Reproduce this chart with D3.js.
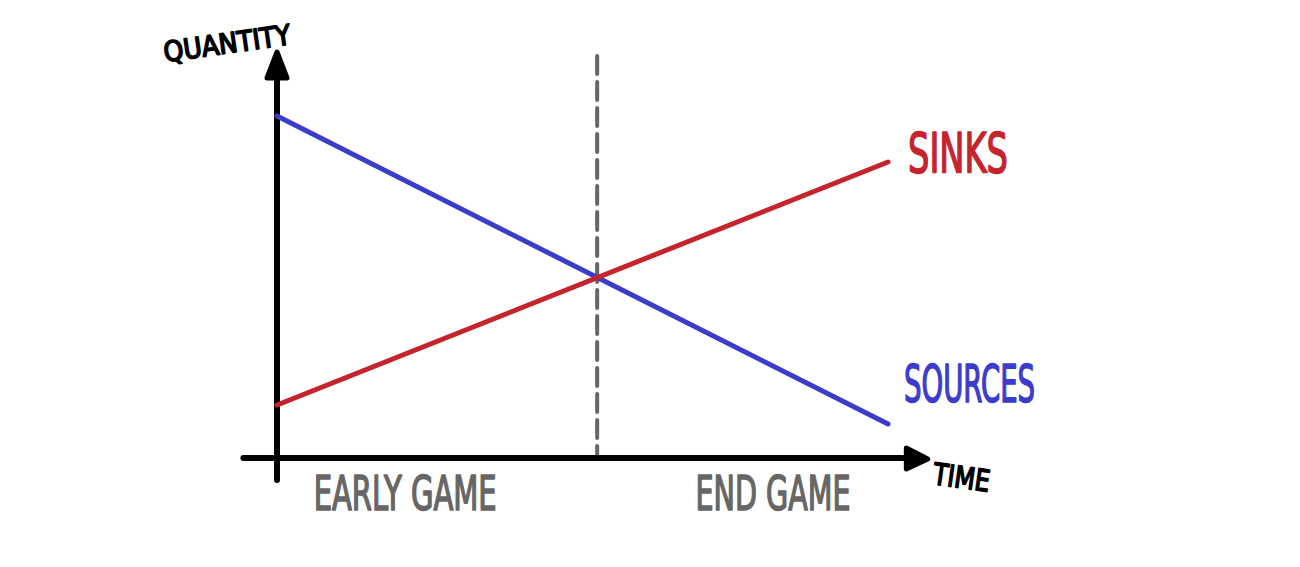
<!DOCTYPE html>
<html>
<head>
<meta charset="utf-8">
<script src="https://cdn.jsdelivr.net/npm/d3@7/dist/d3.min.js"></script>
<style>
  html, body { margin: 0; padding: 0; background: #ffffff; }
  svg { display: block; }
</style>
</head>
<body>
<svg id="chart" width="1300" height="567"></svg>
<script>
// ---- data ----
const time = [0, 100];                 // start / end of the game
const sources = [85.5, 8.5];           // quantity of sources over time
const sinks = [13.25, 74];             // quantity of sinks over time
const seriesNames = ["SINKS", "SOURCES"];
const phases = ["EARLY GAME", "END GAME"];
const phaseDivider = 52.4;             // time where the game switches phase
const axisTitles = { x: "TIME", y: "QUANTITY" };

// ---- layout ----
const W = 1300, H = 567;
const svg = d3.select("#chart");
const x = d3.scaleLinear().domain([0, 100]).range([277, 888]);
const y = d3.scaleLinear().domain([0, 100]).range([458, 58]);

const blue = "#3c3ccc", red = "#c6242c", gray = "#666666";
const font = "'DejaVu Sans Condensed', 'Liberation Sans Narrow', 'DejaVu Sans', sans-serif";

// dashed phase divider
svg.append("line")
  .attr("x1", x(phaseDivider)).attr("x2", x(phaseDivider))
  .attr("y1", y(100.5)).attr("y2", y(0))
  .attr("stroke", gray).attr("stroke-width", 4)
  .attr("stroke-dasharray", "18 8")
  .attr("stroke-linecap", "round");

// axes (no ticks, arrows)
const axisG = svg.append("g");
axisG.append("line")
  .attr("x1", x(0)).attr("x2", x(0))
  .attr("y1", y(-5.5)).attr("y2", y(98))
  .attr("stroke", "#000").attr("stroke-width", 6).attr("stroke-linecap", "round");
axisG.append("line")
  .attr("x1", x(-5.5)).attr("x2", x(104))
  .attr("y1", y(0)).attr("y2", y(0))
  .attr("stroke", "#000").attr("stroke-width", 6).attr("stroke-linecap", "round");
// y arrow head
axisG.append("path")
  .attr("d", `M${x(0) - 10},${y(95)} L${x(0)},${y(101.5)} L${x(0) + 10},${y(95)} Z`)
  .attr("fill", "#000").attr("stroke", "#000").attr("stroke-width", 5).attr("stroke-linejoin", "round");
// x arrow head
axisG.append("path")
  .attr("d", `M${x(103)},${y(0) - 10} L${x(106.5)},${y(0) + 1} L${x(103)},${y(0) + 11} Z`)
  .attr("fill", "#000").attr("stroke", "#000").attr("stroke-width", 5).attr("stroke-linejoin", "round");

// series lines
const line = d3.line().x(d => x(d[0])).y(d => y(d[1]));
const seriesData = [
  { name: seriesNames[0], color: red, values: d3.zip(time, sinks) },
  { name: seriesNames[1], color: blue, values: d3.zip(time, sources) }
];
svg.selectAll("path.series")
  .data([seriesData[1], seriesData[0]])
  .join("path")
  .attr("class", "series")
  .attr("d", d => line(d.values))
  .attr("fill", "none")
  .attr("stroke", d => d.color)
  .attr("stroke-width", 5)
  .attr("stroke-linecap", "round");

// hand-lettered text helper
function label(txt, px, py, size, width, color, rot) {
  svg.append("text")
    .attr("transform", `translate(${px},${py}) rotate(${rot || 0})`)
    .attr("font-family", font)
    .attr("font-size", size)
    .attr("fill", color)
    .attr("stroke", color)
    .attr("stroke-width", 1.6)
    .attr("stroke-linejoin", "round")
    .attr("textLength", width)
    .attr("lengthAdjust", "spacingAndGlyphs")
    .text(txt);
}

// series labels next to line ends
label(seriesNames[0], x(time[1]) + 20, y(sinks[1]) + 10, 55, 100, red, 0);
label(seriesNames[1], x(time[1]) + 16, y(sources[1]) - 22, 52, 131, blue, 0);

// phase labels below x axis
label(phases[0], x(6), y(0) + 52, 48, 183, gray, 0);
label(phases[1], x(68.5), y(0) + 52, 48, 155, gray, 0);

// axis titles
label(axisTitles.y, 165, 62, 28, 128, "#000", -8);
label(axisTitles.x, 932, 484, 30, 57, "#000", 8);
</script>
</body>
</html>
